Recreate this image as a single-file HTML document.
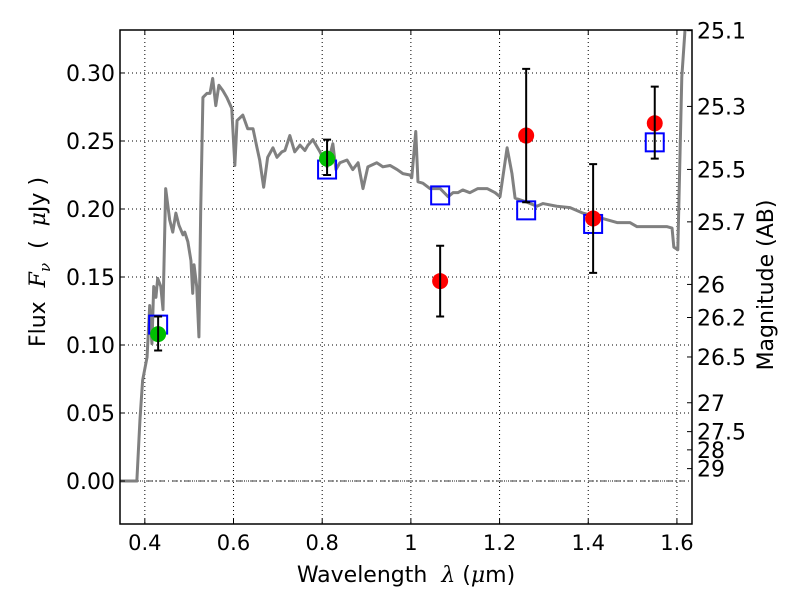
<!DOCTYPE html>
<html><head><meta charset="utf-8"><style>
body{margin:0;background:#fff}
svg text{font-family:"DejaVu Sans","Liberation Sans",sans-serif;fill:#000}
</style></head><body>
<svg id="chart" width="800" height="600" xmlns="http://www.w3.org/2000/svg"></svg>
<script>
const specWave=[0.344,0.382,0.389,0.395,0.405,0.411,0.416,0.420,0.425,0.429,0.436,0.441,0.447,0.456,0.463,0.470,0.477,0.486,0.490,0.497,0.504,0.508,0.511,0.517,0.522,0.526,0.531,0.540,0.547,0.553,0.560,0.567,0.576,0.585,0.596,0.603,0.608,0.621,0.632,0.644,0.653,0.659,0.668,0.677,0.689,0.698,0.709,0.716,0.727,0.738,0.750,0.761,0.768,0.779,0.795,0.811,0.824,0.831,0.840,0.856,0.869,0.881,0.892,0.903,0.923,0.937,0.953,0.969,0.982,0.998,1.002,1.011,1.016,1.027,1.043,1.066,1.084,1.095,1.106,1.117,1.133,1.151,1.172,1.190,1.201,1.217,1.228,1.235,1.262,1.284,1.298,1.329,1.359,1.388,1.433,1.465,1.494,1.510,1.546,1.578,1.589,1.593,1.602,1.611,1.620];
const specFlux=[0,0,0.045,0.074,0.091,0.129,0.101,0.143,0.135,0.149,0.143,0.126,0.215,0.192,0.183,0.197,0.188,0.181,0.183,0.176,0.162,0.138,0.159,0.143,0.106,0.199,0.282,0.285,0.285,0.296,0.276,0.291,0.287,0.282,0.274,0.232,0.265,0.269,0.259,0.259,0.245,0.236,0.216,0.238,0.245,0.238,0.242,0.243,0.254,0.242,0.247,0.243,0.247,0.251,0.242,0.231,0.248,0.229,0.234,0.236,0.229,0.234,0.215,0.231,0.234,0.231,0.232,0.229,0.226,0.225,0.223,0.257,0.220,0.219,0.215,0.215,0.209,0.212,0.212,0.214,0.212,0.215,0.215,0.212,0.209,0.245,0.226,0.208,0.205,0.202,0.204,0.202,0.201,0.197,0.193,0.190,0.190,0.187,0.187,0.187,0.186,0.172,0.170,0.297,0.34];
const greenWave=[0.430,0.811];
const greenFlux=[0.108,0.237];
const greenErrLo=[0.096,0.225];
const greenErrHi=[0.121,0.251];
const redWave=[1.066,1.260,1.411,1.550];
const redFlux=[0.147,0.254,0.193,0.263];
const redErrLo=[0.121,0.205,0.153,0.237];
const redErrHi=[0.173,0.303,0.233,0.290];
const modelWave=[0.430,0.811,1.066,1.260,1.411,1.550];
const modelFlux=[0.115,0.229,0.210,0.199,0.189,0.249];
const xTicks=[0.4,0.6,0.8,1.0,1.2,1.4,1.6];
const xTickLabels=["0.4","0.6","0.8","1","1.2","1.4","1.6"];
const yTicks=[0,0.05,0.10,0.15,0.20,0.25,0.30];
const yTickLabels=["0.00","0.05","0.10","0.15","0.20","0.25","0.30"];
const magTicks=[25.1,25.3,25.5,25.7,26,26.2,26.5,27,27.5,28,29];
const magLabels=["25.1","25.3","25.5","25.7","26","26.2","26.5","27","27.5","28","29"];

const L=120,R=692,T=30,B=524;
const xMin=0.344,xMax=1.634,yMin=-0.0316,yMax=0.3316;
const X=v=>L+(v-xMin)/(xMax-xMin)*(R-L);
const Y=v=>B-(v-yMin)/(yMax-yMin)*(B-T);
const magToFlux=m=>Math.pow(10,(23.9-m)/2.5);
const svg=document.getElementById('chart');
const NS='http://www.w3.org/2000/svg';
function mk(tag,attrs,parent){const e=document.createElementNS(NS,tag);for(const k in attrs)e.setAttribute(k,attrs[k]);(parent||svg).appendChild(e);return e;}

xTicks.forEach((t,i)=>{
  const g=mk('line',{x1:X(t),x2:X(t),y1:T,y2:B,stroke:'#000','stroke-width':1,'stroke-dasharray':'1,3'});
  
  
});
yTicks.forEach((t,i)=>{
  const g=mk('line',{x1:L,x2:R,y1:Y(t),y2:Y(t),stroke:'#000','stroke-width':1,'stroke-dasharray':'1,3'});
  
  
});
const z=mk('line',{x1:L,x2:R,y1:Y(0),y2:Y(0),stroke:'#000','stroke-width':0.8,'stroke-dasharray':'6,3,1,3'});



const clip=mk('clipPath',{id:'pc'});mk('rect',{x:L,y:T,width:R-L,height:B-T},clip);
const sp=mk('polyline',{points:specWave.map((w,i)=>X(w)+','+Y(specFlux[i])).join(' '),fill:'none',stroke:'#808080','stroke-width':3,'stroke-linejoin':'round','clip-path':'url(#pc)'});



modelWave.forEach((w,i)=>{
  const s=mk('rect',{x:X(w)-9,y:Y(modelFlux[i])-9,width:18,height:18,fill:'none',stroke:'#0000ff','stroke-width':2});
  
  
});
function pts(ws,fs,lo,hi,color,name){
  ws.forEach((w,i)=>{
    const x=X(w);
    const c=mk('circle',{cx:x,cy:Y(fs[i]),r:8,fill:color});
    
    
    const e=mk('path',{d:`M${x},${Y(lo[i])}V${Y(hi[i])}M${x-4},${Y(lo[i])}H${x+4}M${x-4},${Y(hi[i])}H${x+4}`,stroke:'#000','stroke-width':2,fill:'none'});
    
    
  });
}
pts(greenWave,greenFlux,greenErrLo,greenErrHi,'#00bf00','hst-photometry-point');
pts(redWave,redFlux,redErrLo,redErrHi,'#ff0000','nir-photometry-point');

const fr=mk('rect',{x:L,y:T,width:R-L,height:B-T,fill:'none',stroke:'#000','stroke-width':1.5});



xTicks.forEach((t,i)=>{
  const x=X(t);
  mk('line',{x1:x,x2:x,y1:B,y2:B-5,stroke:'#000'});
  mk('line',{x1:x,x2:x,y1:T,y2:T+5,stroke:'#000'});
  const tx=mk('text',{x:x,y:B+26,'text-anchor':'middle','font-size':21});
  tx.textContent=xTickLabels[i];
  
  
});
yTicks.forEach((t,i)=>{
  const y=Y(t);
  mk('line',{x1:L,x2:L+5,y1:y,y2:y,stroke:'#000'});
  const tx=mk('text',{x:L-5,y:y+8,'text-anchor':'end','font-size':22});
  tx.textContent=yTickLabels[i];
  
  
});
magTicks.forEach((m,i)=>{
  const y=Y(magToFlux(m));
  mk('line',{x1:R,x2:R-5,y1:y,y2:y,stroke:'#000'});
  const tx=mk('text',{x:R+5,y:y+8,'font-size':22});
  tx.textContent=magLabels[i];
  
  
});
</script>
<svg style="position:absolute;left:0;top:0" width="800" height="600">
<text x="406" y="582" text-anchor="middle" font-size="22" xml:space="preserve">Wavelength  <tspan font-style="italic" font-family="DejaVu Serif, serif">λ</tspan> (<tspan font-style="italic" font-family="DejaVu Serif, serif">μ</tspan>m)</text>
<text transform="translate(45,262) rotate(-90)" text-anchor="middle" font-size="22" xml:space="preserve">Flux  <tspan font-style="italic" font-family="DejaVu Serif, serif">F</tspan><tspan font-style="italic" font-size="15" dy="5" font-family="DejaVu Serif, serif">ν</tspan><tspan dy="-5">  (  </tspan><tspan font-style="italic" font-family="DejaVu Serif, serif">μ</tspan>Jy )</text>
<text transform="translate(773,285) rotate(-90)" text-anchor="middle" font-size="22">Magnitude (AB)</text>
</svg>
</body></html>
